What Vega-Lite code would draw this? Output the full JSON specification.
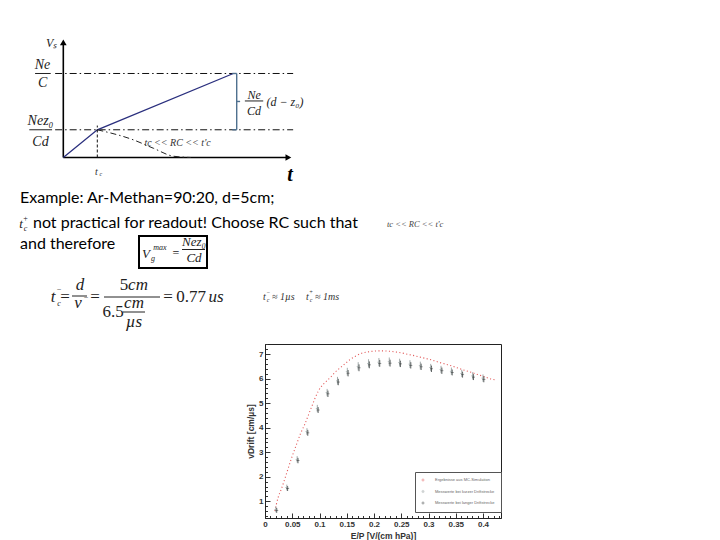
{
  "$schema": "https://vega.github.io/schema/vega-lite/v6.json",
  "padding": 0,
  "background": "white",
  "spacing": 0,
  "config": {
    "view": {"stroke": null},
    "concat": {"spacing": 0},
    "axis": {
      "labelFont": "Liberation Sans", "labelFontSize": 8, "labelFontWeight": "bold", "labelColor": "#333",
      "titleFont": "Liberation Sans", "titleFontSize": 8.5, "titleFontWeight": "bold", "titleColor": "#333",
      "tickColor": "#333", "domainColor": "#222", "grid": false, "labelOverlap": false, "labelFlush": false
    }
  },
  "datasets": {
    "dg_axes": [{"t": 0, "V": 0, "t2": 6.6, "V2": 0}, {"t": 0, "V": 0, "t2": 0, "V2": 1.35}],
    "dg_arrow_t": [{"t": 6.62, "V": 0}],
    "dg_arrow_v": [{"t": 0, "V": 1.37}],
    "dg_levels": [{"t": -0.24, "t2": 6.76, "V": 1}, {"t": -0.24, "t2": 6.76, "V": 0.33}],
    "dg_signal": [{"t": 0, "V": 0}, {"t": 1, "V": 0.33}, {"t": 5, "V": 1}],
    "dg_tc": [{"t": 1, "V": 0, "V2": 0.38}],
    "dg_decay": [{"t": 1, "V": 0.33}, {"t": 2.06, "V": 0.21}, {"t": 2.65, "V": 0.11}, {"t": 3.24, "V": 0.015}, {"t": 3.75, "V": 0.0}],
    "dg_bracket": [{"t": 5.1, "t2": 5.1, "V": 0.33, "V2": 1}, {"t": 4.97, "t2": 5.1, "V": 1, "V2": 1}, {"t": 4.97, "t2": 5.1, "V": 0.33, "V2": 0.33}, {"t": 5.1, "t2": 5.2, "V": 0.667, "V2": 0.667}],
    "dg_bars": [{"t": -0.83, "t2": -0.37, "V": 1.0}, {"t": -1.0, "t2": -0.33, "V": 0.33}, {"t": 5.34, "t2": 5.88, "V": 0.673}],
    "dg_labels": [
      {"t": -0.61, "V": 1.1, "s": "Ne", "kind": "frac"},
      {"t": -0.61, "V": 0.883, "s": "C", "kind": "frac"},
      {"t": -0.67, "V": 0.44, "s": "Nez₀", "kind": "frac"},
      {"t": -0.67, "V": 0.19, "s": "Cd", "kind": "frac"},
      {"t": 5.61, "V": 0.745, "s": "Ne", "kind": "mid"},
      {"t": 5.61, "V": 0.557, "s": "Cd", "kind": "mid"},
      {"t": 6.52, "V": 0.655, "s": "(d − z₀)", "kind": "mid"},
      {"t": -0.34, "V": 1.36, "s": "Vₛ", "kind": "mid"},
      {"t": 0.97, "V": -0.17, "s": "t", "kind": "small"},
      {"t": 1.1, "V": -0.2, "s": "c", "kind": "script"},
      {"t": 3.36, "V": 0.17, "s": "tc << RC << t'c", "kind": "small"},
      {"t": 6.67, "V": -0.21, "s": "t", "kind": "big"}
    ],
    "slide_text": [
      {"col": 20, "row": 13, "s": "Example: Ar-Methan=90:20, d=5cm;", "kind": "body"},
      {"col": 33, "row": 38, "s": "not practical for readout! Choose RC such that", "kind": "body"},
      {"col": 20, "row": 59, "s": "and therefore", "kind": "body"},
      {"col": 21, "row": 38, "s": "t", "kind": "mid"},
      {"col": 25.5, "row": 41, "s": "c", "kind": "script"},
      {"col": 25.5, "row": 31, "s": "+", "kind": "script"},
      {"col": 387, "row": 37, "s": "tc << RC << t'c", "kind": "tiny"},
      {"col": 146, "row": 68, "s": "V", "kind": "mid"},
      {"col": 153, "row": 71, "s": "g", "kind": "script"},
      {"col": 160, "row": 60, "s": "max", "kind": "script"},
      {"col": 176, "row": 67, "s": "=", "kind": "opsmall"},
      {"col": 194, "row": 56, "s": "Nez₀", "kind": "mid"},
      {"col": 194, "row": 72, "s": "Cd", "kind": "mid"},
      {"col": 53, "row": 112, "s": "t", "kind": "math"},
      {"col": 59, "row": 116, "s": "c", "kind": "script"},
      {"col": 59, "row": 102, "s": "−", "kind": "script"},
      {"col": 65, "row": 112, "s": "=", "kind": "op"},
      {"col": 80, "row": 100, "s": "d", "kind": "math"},
      {"col": 78, "row": 118, "s": "v", "kind": "math"},
      {"col": 86, "row": 110, "s": "−", "kind": "script"},
      {"col": 95, "row": 112, "s": "=", "kind": "op"},
      {"col": 124, "row": 100, "s": "5", "kind": "num"},
      {"col": 138, "row": 100, "s": "cm", "kind": "math"},
      {"col": 113, "row": 127, "s": "6.5", "kind": "num"},
      {"col": 134, "row": 118, "s": "cm", "kind": "math"},
      {"col": 134, "row": 137, "s": "µs", "kind": "math"},
      {"col": 168, "row": 112, "s": "=", "kind": "op"},
      {"col": 191, "row": 112, "s": "0.77", "kind": "num"},
      {"col": 216, "row": 112, "s": "us", "kind": "math"},
      {"col": 263, "row": 110, "s": "t", "kind": "small"},
      {"col": 268, "row": 112, "s": "c", "kind": "script2"},
      {"col": 268, "row": 104, "s": "−", "kind": "script2"},
      {"col": 272, "row": 110, "s": "≈ 1µs", "kind": "small"},
      {"col": 306, "row": 110, "s": "t", "kind": "small"},
      {"col": 311, "row": 112, "s": "c", "kind": "script2"},
      {"col": 311, "row": 104, "s": "+", "kind": "script2"},
      {"col": 315, "row": 110, "s": "≈ 1ms", "kind": "small"}
    ],
    "slide_rules": [
      {"col": 72, "col2": 87, "row": 106},
      {"col": 104, "col2": 160, "row": 107},
      {"col": 123, "col2": 145, "row": 122},
      {"col": 182, "col2": 205, "row": 59.5}
    ],
    "slide_box": [{"col": 139, "col2": 207, "row": 46, "row2": 78}],
    "sim": [
      {"x": 0.018, "v": 0.6, "series": "Ergebnisse aus MC-Simulation"}, {"x": 0.024, "v": 1.15, "series": "Ergebnisse aus MC-Simulation"},
      {"x": 0.03, "v": 1.5, "series": "Ergebnisse aus MC-Simulation"}, {"x": 0.037, "v": 1.96, "series": "Ergebnisse aus MC-Simulation"},
      {"x": 0.049, "v": 2.78, "series": "Ergebnisse aus MC-Simulation"}, {"x": 0.058, "v": 3.33, "series": "Ergebnisse aus MC-Simulation"},
      {"x": 0.065, "v": 3.75, "series": "Ergebnisse aus MC-Simulation"}, {"x": 0.073, "v": 4.14, "series": "Ergebnisse aus MC-Simulation"},
      {"x": 0.085, "v": 4.82, "series": "Ergebnisse aus MC-Simulation"}, {"x": 0.098, "v": 5.5, "series": "Ergebnisse aus MC-Simulation"},
      {"x": 0.11, "v": 5.84, "series": "Ergebnisse aus MC-Simulation"}, {"x": 0.12, "v": 6.05, "series": "Ergebnisse aus MC-Simulation"},
      {"x": 0.128, "v": 6.25, "series": "Ergebnisse aus MC-Simulation"}, {"x": 0.137, "v": 6.42, "series": "Ergebnisse aus MC-Simulation"},
      {"x": 0.146, "v": 6.59, "series": "Ergebnisse aus MC-Simulation"}, {"x": 0.155, "v": 6.76, "series": "Ergebnisse aus MC-Simulation"},
      {"x": 0.165, "v": 6.9, "series": "Ergebnisse aus MC-Simulation"}, {"x": 0.177, "v": 7.03, "series": "Ergebnisse aus MC-Simulation"},
      {"x": 0.189, "v": 7.09, "series": "Ergebnisse aus MC-Simulation"}, {"x": 0.2, "v": 7.12, "series": "Ergebnisse aus MC-Simulation"},
      {"x": 0.213, "v": 7.13, "series": "Ergebnisse aus MC-Simulation"}, {"x": 0.226, "v": 7.12, "series": "Ergebnisse aus MC-Simulation"},
      {"x": 0.238, "v": 7.09, "series": "Ergebnisse aus MC-Simulation"}, {"x": 0.25, "v": 7.05, "series": "Ergebnisse aus MC-Simulation"},
      {"x": 0.262, "v": 6.99, "series": "Ergebnisse aus MC-Simulation"}, {"x": 0.275, "v": 6.93, "series": "Ergebnisse aus MC-Simulation"},
      {"x": 0.287, "v": 6.86, "series": "Ergebnisse aus MC-Simulation"}, {"x": 0.299, "v": 6.8, "series": "Ergebnisse aus MC-Simulation"},
      {"x": 0.31, "v": 6.73, "series": "Ergebnisse aus MC-Simulation"}, {"x": 0.32, "v": 6.66, "series": "Ergebnisse aus MC-Simulation"},
      {"x": 0.331, "v": 6.59, "series": "Ergebnisse aus MC-Simulation"}, {"x": 0.342, "v": 6.52, "series": "Ergebnisse aus MC-Simulation"},
      {"x": 0.354, "v": 6.43, "series": "Ergebnisse aus MC-Simulation"}, {"x": 0.366, "v": 6.34, "series": "Ergebnisse aus MC-Simulation"},
      {"x": 0.379, "v": 6.25, "series": "Ergebnisse aus MC-Simulation"}, {"x": 0.39, "v": 6.17, "series": "Ergebnisse aus MC-Simulation"},
      {"x": 0.402, "v": 6.08, "series": "Ergebnisse aus MC-Simulation"}, {"x": 0.415, "v": 5.98, "series": "Ergebnisse aus MC-Simulation"},
      {"x": 0.425, "v": 5.94, "series": "Ergebnisse aus MC-Simulation"}
    ],
    "meas": [
      {"x": 0.02, "v": 0.67, "err": 0.12, "series": "Messwerte bei kurzer Driftstrecke"},
      {"x": 0.04, "v": 1.56, "err": 0.12, "series": "Messwerte bei kurzer Driftstrecke"},
      {"x": 0.059, "v": 2.71, "err": 0.13, "series": "Messwerte bei kurzer Driftstrecke"},
      {"x": 0.077, "v": 3.84, "err": 0.14, "series": "Messwerte bei kurzer Driftstrecke"},
      {"x": 0.096, "v": 4.78, "err": 0.15, "series": "Messwerte bei kurzer Driftstrecke"},
      {"x": 0.114, "v": 5.43, "err": 0.15, "series": "Messwerte bei kurzer Driftstrecke"},
      {"x": 0.133, "v": 5.91, "err": 0.16, "series": "Messwerte bei kurzer Driftstrecke"},
      {"x": 0.151, "v": 6.28, "err": 0.16, "series": "Messwerte bei kurzer Driftstrecke"},
      {"x": 0.171, "v": 6.5, "err": 0.17, "series": "Messwerte bei kurzer Driftstrecke"},
      {"x": 0.19, "v": 6.62, "err": 0.17, "series": "Messwerte bei kurzer Driftstrecke"},
      {"x": 0.209, "v": 6.67, "err": 0.17, "series": "Messwerte bei kurzer Driftstrecke"},
      {"x": 0.228, "v": 6.69, "err": 0.17, "series": "Messwerte bei kurzer Driftstrecke"},
      {"x": 0.247, "v": 6.65, "err": 0.16, "series": "Messwerte bei kurzer Driftstrecke"},
      {"x": 0.266, "v": 6.59, "err": 0.16, "series": "Messwerte bei kurzer Driftstrecke"},
      {"x": 0.285, "v": 6.53, "err": 0.16, "series": "Messwerte bei kurzer Driftstrecke"},
      {"x": 0.304, "v": 6.45, "err": 0.15, "series": "Messwerte bei kurzer Driftstrecke"},
      {"x": 0.323, "v": 6.37, "err": 0.15, "series": "Messwerte bei kurzer Driftstrecke"},
      {"x": 0.342, "v": 6.3, "err": 0.15, "series": "Messwerte bei kurzer Driftstrecke"},
      {"x": 0.361, "v": 6.21, "err": 0.15, "series": "Messwerte bei kurzer Driftstrecke"},
      {"x": 0.381, "v": 6.11, "err": 0.15, "series": "Messwerte bei kurzer Driftstrecke"},
      {"x": 0.4, "v": 6.02, "err": 0.15, "series": "Messwerte bei kurzer Driftstrecke"},
      {"x": 0.0215, "v": 0.63, "err": 0.1, "series": "Messwerte bei langer Driftstrecke"},
      {"x": 0.0415, "v": 1.52, "err": 0.1, "series": "Messwerte bei langer Driftstrecke"},
      {"x": 0.0605, "v": 2.66, "err": 0.11, "series": "Messwerte bei langer Driftstrecke"},
      {"x": 0.0785, "v": 3.79, "err": 0.12, "series": "Messwerte bei langer Driftstrecke"},
      {"x": 0.0975, "v": 4.72, "err": 0.12, "series": "Messwerte bei langer Driftstrecke"},
      {"x": 0.1155, "v": 5.38, "err": 0.13, "series": "Messwerte bei langer Driftstrecke"},
      {"x": 0.1345, "v": 5.86, "err": 0.13, "series": "Messwerte bei langer Driftstrecke"},
      {"x": 0.1525, "v": 6.22, "err": 0.13, "series": "Messwerte bei langer Driftstrecke"},
      {"x": 0.1725, "v": 6.44, "err": 0.14, "series": "Messwerte bei langer Driftstrecke"},
      {"x": 0.1915, "v": 6.56, "err": 0.14, "series": "Messwerte bei langer Driftstrecke"},
      {"x": 0.2105, "v": 6.62, "err": 0.14, "series": "Messwerte bei langer Driftstrecke"},
      {"x": 0.2295, "v": 6.63, "err": 0.14, "series": "Messwerte bei langer Driftstrecke"},
      {"x": 0.2485, "v": 6.6, "err": 0.13, "series": "Messwerte bei langer Driftstrecke"},
      {"x": 0.2675, "v": 6.54, "err": 0.13, "series": "Messwerte bei langer Driftstrecke"},
      {"x": 0.2865, "v": 6.48, "err": 0.13, "series": "Messwerte bei langer Driftstrecke"},
      {"x": 0.3055, "v": 6.4, "err": 0.13, "series": "Messwerte bei langer Driftstrecke"},
      {"x": 0.3245, "v": 6.32, "err": 0.13, "series": "Messwerte bei langer Driftstrecke"},
      {"x": 0.3435, "v": 6.25, "err": 0.12, "series": "Messwerte bei langer Driftstrecke"},
      {"x": 0.3625, "v": 6.16, "err": 0.12, "series": "Messwerte bei langer Driftstrecke"},
      {"x": 0.3825, "v": 6.06, "err": 0.12, "series": "Messwerte bei langer Driftstrecke"},
      {"x": 0.4015, "v": 5.97, "err": 0.12, "series": "Messwerte bei langer Driftstrecke"}
    ]
  },
  "vconcat": [
    {
      "width": 340,
      "height": 190,
      "encoding": {
        "x": {"field": "t", "type": "quantitative", "scale": {"domain": [-1.862, 8.138], "nice": false, "zero": false}, "axis": null},
        "y": {"field": "V", "type": "quantitative", "scale": {"domain": [-0.387, 1.875], "nice": false, "zero": false}, "axis": null}
      },
      "layer": [
        {"data": {"name": "dg_levels"}, "mark": {"type": "rule", "color": "#111", "strokeWidth": 1, "strokeDash": [7, 3, 1.5, 3]}, "encoding": {"x2": {"field": "t2"}}},
        {"data": {"name": "dg_axes"}, "mark": {"type": "rule", "color": "#000", "strokeWidth": 1.6}, "encoding": {"x2": {"field": "t2"}, "y2": {"field": "V2"}}},
        {"data": {"name": "dg_arrow_t"}, "mark": {"type": "point", "shape": "triangle-right", "filled": true, "color": "#000", "size": 45, "opacity": 1}},
        {"data": {"name": "dg_arrow_v"}, "mark": {"type": "point", "shape": "triangle-up", "filled": true, "color": "#000", "size": 45, "opacity": 1}},
        {"data": {"name": "dg_signal"}, "mark": {"type": "line", "color": "#2a2f7e", "strokeWidth": 1.3}},
        {"data": {"name": "dg_tc"}, "mark": {"type": "rule", "color": "#111", "strokeWidth": 1, "strokeDash": [3, 2]}, "encoding": {"y2": {"field": "V2"}}},
        {"data": {"name": "dg_decay"}, "mark": {"type": "line", "color": "#222", "strokeWidth": 1, "strokeDash": [6, 3, 1.5, 3], "interpolate": "monotone"}},
        {"data": {"name": "dg_bracket"}, "mark": {"type": "rule", "color": "#4f708f", "strokeWidth": 1.4}, "encoding": {"x2": {"field": "t2"}, "y2": {"field": "V2"}}},
        {"data": {"name": "dg_bars"}, "mark": {"type": "rule", "color": "#222", "strokeWidth": 1}, "encoding": {"x2": {"field": "t2"}}},
        {"data": {"name": "dg_labels"}, "transform": [{"filter": "datum.kind == 'frac'"}], "mark": {"type": "text", "font": "Liberation Serif", "fontStyle": "italic", "fontSize": 14, "baseline": "middle", "align": "center", "color": "#222"}, "encoding": {"text": {"field": "s"}}},
        {"data": {"name": "dg_labels"}, "transform": [{"filter": "datum.kind == 'mid'"}], "mark": {"type": "text", "font": "Liberation Serif", "fontStyle": "italic", "fontSize": 12, "baseline": "middle", "align": "center", "color": "#222"}, "encoding": {"text": {"field": "s"}}},
        {"data": {"name": "dg_labels"}, "transform": [{"filter": "datum.kind == 'small'"}], "mark": {"type": "text", "font": "Liberation Serif", "fontStyle": "italic", "fontSize": 10, "baseline": "middle", "align": "center", "color": "#333"}, "encoding": {"text": {"field": "s"}}},
        {"data": {"name": "dg_labels"}, "transform": [{"filter": "datum.kind == 'script'"}], "mark": {"type": "text", "font": "Liberation Serif", "fontStyle": "italic", "fontSize": 6, "baseline": "middle", "align": "center", "color": "#333"}, "encoding": {"text": {"field": "s"}}},
        {"data": {"name": "dg_labels"}, "transform": [{"filter": "datum.kind == 'big'"}], "mark": {"type": "text", "font": "Liberation Serif", "fontStyle": "italic", "fontWeight": "bold", "fontSize": 20, "baseline": "middle", "align": "center", "color": "#000"}, "encoding": {"text": {"field": "s"}}}
      ]
    },
    {
      "width": 720,
      "height": 149,
      "encoding": {
        "x": {"field": "col", "type": "quantitative", "scale": {"domain": [0, 720], "nice": false, "zero": false}, "axis": null},
        "y": {"field": "row", "type": "quantitative", "scale": {"domain": [0, 149], "nice": false, "zero": false, "reverse": true}, "axis": null}
      },
      "layer": [
        {"data": {"name": "slide_box"}, "mark": {"type": "rect", "fill": null, "stroke": "#000", "strokeWidth": 2}, "encoding": {"x2": {"field": "col2"}, "y2": {"field": "row2"}}},
        {"data": {"name": "slide_rules"}, "mark": {"type": "rule", "color": "#222", "strokeWidth": 1}, "encoding": {"x2": {"field": "col2"}}},
        {"data": {"name": "slide_text"}, "transform": [{"filter": "datum.kind == 'body'"}], "mark": {"type": "text", "font": "Lato", "fontSize": 16, "align": "left", "baseline": "alphabetic", "color": "#000"}, "encoding": {"text": {"field": "s"}}},
        {"data": {"name": "slide_text"}, "transform": [{"filter": "datum.kind == 'mid'"}], "mark": {"type": "text", "font": "Liberation Serif", "fontStyle": "italic", "fontSize": 13, "align": "center", "baseline": "alphabetic", "color": "#222"}, "encoding": {"text": {"field": "s"}}},
        {"data": {"name": "slide_text"}, "transform": [{"filter": "datum.kind == 'math'"}], "mark": {"type": "text", "font": "Liberation Serif", "fontStyle": "italic", "fontSize": 17, "align": "center", "baseline": "alphabetic", "color": "#222"}, "encoding": {"text": {"field": "s"}}},
        {"data": {"name": "slide_text"}, "transform": [{"filter": "datum.kind == 'num'"}], "mark": {"type": "text", "font": "Liberation Serif", "fontSize": 17, "align": "center", "baseline": "alphabetic", "color": "#222"}, "encoding": {"text": {"field": "s"}}},
        {"data": {"name": "slide_text"}, "transform": [{"filter": "datum.kind == 'op'"}], "mark": {"type": "text", "font": "Liberation Serif", "fontSize": 17, "align": "center", "baseline": "alphabetic", "color": "#222"}, "encoding": {"text": {"field": "s"}}},
        {"data": {"name": "slide_text"}, "transform": [{"filter": "datum.kind == 'opsmall'"}], "mark": {"type": "text", "font": "Liberation Serif", "fontSize": 12, "align": "center", "baseline": "alphabetic", "color": "#222"}, "encoding": {"text": {"field": "s"}}},
        {"data": {"name": "slide_text"}, "transform": [{"filter": "datum.kind == 'script'"}], "mark": {"type": "text", "font": "Liberation Serif", "fontStyle": "italic", "fontSize": 8, "align": "center", "baseline": "alphabetic", "color": "#222"}, "encoding": {"text": {"field": "s"}}},
        {"data": {"name": "slide_text"}, "transform": [{"filter": "datum.kind == 'script2'"}], "mark": {"type": "text", "font": "Liberation Serif", "fontStyle": "italic", "fontSize": 6, "align": "center", "baseline": "alphabetic", "color": "#333"}, "encoding": {"text": {"field": "s"}}},
        {"data": {"name": "slide_text"}, "transform": [{"filter": "datum.kind == 'small'"}], "mark": {"type": "text", "font": "Liberation Serif", "fontStyle": "italic", "fontSize": 10, "align": "left", "baseline": "alphabetic", "color": "#333"}, "encoding": {"text": {"field": "s"}}},
        {"data": {"name": "slide_text"}, "transform": [{"filter": "datum.kind == 'tiny'"}], "mark": {"type": "text", "font": "Liberation Serif", "fontStyle": "italic", "fontSize": 8.5, "align": "left", "baseline": "alphabetic", "color": "#444"}, "encoding": {"text": {"field": "s"}}}
      ]
    },
    {
      "spacing": 0,
      "hconcat": [
        {"width": 246, "height": 10, "data": {"values": [{}]}, "mark": {"type": "point", "opacity": 0}},
        {
          "width": 236,
          "height": 174,
          "view": {"stroke": "#222", "strokeWidth": 1},
          "encoding": {
            "x": {"field": "x", "type": "quantitative", "scale": {"domain": [0, 0.433], "nice": false, "zero": false},
              "axis": {"title": "E/P [V/(cm hPa)]", "titlePadding": 1,
                "values": [0, 0.01, 0.02, 0.03, 0.04, 0.05, 0.06, 0.07, 0.08, 0.09, 0.1, 0.11, 0.12, 0.13, 0.14, 0.15, 0.16, 0.17, 0.18, 0.19, 0.2, 0.21, 0.22, 0.23, 0.24, 0.25, 0.26, 0.27, 0.28, 0.29, 0.3, 0.31, 0.32, 0.33, 0.34, 0.35, 0.36, 0.37, 0.38, 0.39, 0.4, 0.41, 0.42, 0.43],
                "labelExpr": "abs(datum.value * 20 - round(datum.value * 20)) < 0.001 ? format(datum.value, '~g') : ''",
                "tickSize": {"condition": {"test": "abs(datum.value * 20 - round(datum.value * 20)) < 0.001", "value": -5}, "value": -2.5},
                "labelPadding": 7}},
            "y": {"field": "v", "type": "quantitative", "scale": {"domain": [0.32, 7.41], "nice": false, "zero": false},
              "axis": {"title": "vDrift [cm/µs]", "titlePadding": 3,
                "values": [0.4, 0.6, 0.8, 1, 1.2, 1.4, 1.6, 1.8, 2, 2.2, 2.4, 2.6, 2.8, 3, 3.2, 3.4, 3.6, 3.8, 4, 4.2, 4.4, 4.6, 4.8, 5, 5.2, 5.4, 5.6, 5.8, 6, 6.2, 6.4, 6.6, 6.8, 7, 7.2, 7.4],
                "labelExpr": "abs(datum.value - round(datum.value)) < 0.001 ? format(datum.value, 'd') : ''",
                "tickSize": {"condition": {"test": "abs(datum.value - round(datum.value)) < 0.001", "value": -5}, "value": -2.5},
                "labelPadding": 7}},
            "color": {"field": "series", "type": "nominal",
              "scale": {"domain": ["Ergebnisse aus MC-Simulation", "Messwerte bei kurzer Driftstrecke", "Messwerte bei langer Driftstrecke"], "range": ["#e25a5a", "#8c9696", "#3a3f3f"]},
              "legend": {"title": null, "orient": "none", "legendX": 415, "legendY": 472, "strokeColor": "#555", "fillColor": "#ffffff", "padding": 6, "rowPadding": 5.5, "labelFontSize": 4, "labelFont": "Liberation Sans", "labelColor": "#666", "labelOffset": 10, "symbolSize": 6, "symbolStrokeWidth": 0.5, "symbolOpacity": 0.4}}
          },
          "layer": [
            {"data": {"name": "sim"}, "mark": {"type": "line", "strokeDash": [1.1, 2.4], "strokeWidth": 1.1, "interpolate": "monotone"}},
            {"data": {"name": "meas"}, "mark": {"type": "errorbar", "thickness": 0.8}, "encoding": {"yError": {"field": "err"}}},
            {"data": {"name": "meas"}, "mark": {"type": "tick", "orient": "horizontal", "size": 3, "thickness": 0.8}}
          ]
        }
      ]
    }
  ]
}
